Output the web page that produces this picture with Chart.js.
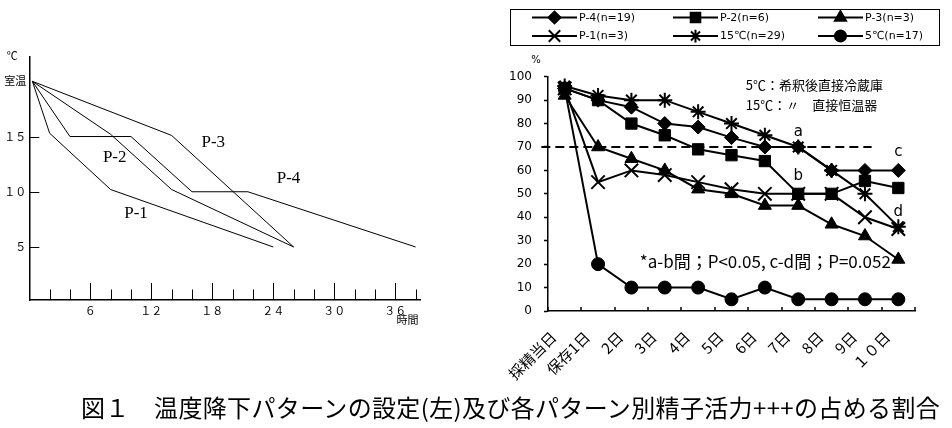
<!DOCTYPE html>
<html><head><meta charset="utf-8">
<script src="https://cdn.jsdelivr.net/npm/chart.js@4"></script>
<style>
html,body{margin:0;padding:0;background:#fff;width:952px;height:428px;overflow:hidden;}
#left{position:absolute;left:0;top:40px;}
#right{position:absolute;left:500px;top:0;}
#caption{position:absolute;left:81px;top:395px;font-family:"Noto Sans CJK JP";font-size:24px;line-height:24px;letter-spacing:0.35px;white-space:nowrap;color:#000;}
</style></head><body>
<canvas id="left" width="480" height="300"></canvas>
<canvas id="right" width="452" height="392"></canvas>
<div id="caption">図１　温度降下パターンの設定(左)及び各パターン別精子活力+++の占める割合</div>
<script>
// ---------- Left chart: temperature-drop patterns (hours, °C) ----------
const patternNames = ['P-1', 'P-2', 'P-3', 'P-4'];
const p1Hours = [0.3, 2, 8, 24];
const p1Temps = [20, 15.3, 10.2, 5];
const p2Hours = [0.3, 8, 14, 26];
const p2Temps = [20, 15.2, 10.2, 5];
const p3Hours = [0.3, 14, 26];
const p3Temps = [20, 15.1, 5];
const p4Hours = [0.3, 4, 10, 16, 21.5, 38];
const p4Temps = [20, 15, 15, 10, 10, 5];
const patternLabelHours = [10.5, 8.4, 18.1, 25.5];
const patternLabelTemps = [8.0, 13.1, 14.5, 11.2];
const leftXTickValues = [6, 12, 18, 24, 30, 36];
const leftXTickLabels = ['６', '１２', '１８', '２４', '３０', '３６'];
const leftYTickValues = [5, 10, 15, 20];
const leftYTickLabels = ['５', '１０', '１５', '室温'];
const leftMinorTickStep = 2;

// ---------- Right chart: % of motility +++ by storage day ----------
const dayLabels = ['採精当日', '保存1日', '2日', '3日', '4日', '5日', '6日', '7日', '8日', '9日', '１０日'];
const seriesNames = ['P-4(n=19)', 'P-2(n=6)', 'P-3(n=3)', 'P-1(n=3)', '15℃(n=29)', '5℃(n=17)'];
const p4Values = [95, 90, 87, 80, 78.5, 74, 70, 70, 60, 60, 60];
const p2Values = [95, 90, 80, 75, 69, 66.5, 64, 50, 50, 55.5, 52.5];
const p3Values = [92, 70, 65, 60, 52, 50, 45, 45, 37, 32, 22];
const p1Values = [95, 55, 60, 58, 55, 52, 50, 50, 50, 40, 35];
const t15Values = [96, 92, 90, 90, 85, 80, 75, 70, 60, 50, 36];
const t5Values = [95, 20, 10, 10, 10, 5, 10, 5, 5, 5, 5];
const thresholdValue = 70;
const markLetters = ['a', 'b', 'c', 'd'];
const markDays = [7, 7, 10, 10];
const markValues = [76.5, 57.7, 68, 42.4];
const noteLines = ['5℃：希釈後直接冷蔵庫', '15℃：〃　直接恒温器'];
const statNote = '*a-b間；P<0.05, c-d間；P=0.052';

const BLACK = '#000';

// ================= LEFT CHART =================
function pts(xs, ys) { return xs.map((x, i) => ({ x: x, y: ys[i] })); }

const leftPlugin = {
  id: 'leftDecor',
  afterDraw(chart) {
    const ctx = chart.ctx, xs = chart.scales.x, ys = chart.scales.y, ca = chart.chartArea;
    ctx.save();
    ctx.strokeStyle = BLACK; ctx.lineWidth = 1;
    for (let v = leftMinorTickStep; v <= xs.max; v += leftMinorTickStep) {
      const px = Math.round(xs.getPixelForValue(v)) + 0.5;
      const len = (v % 6 === 0) ? 17 : 10.5;
      ctx.beginPath(); ctx.moveTo(px, ca.bottom); ctx.lineTo(px, ca.bottom - len); ctx.stroke();
    }
    leftYTickValues.slice(0, 3).forEach(v => {
      const py = Math.round(ys.getPixelForValue(v)) + 0.5;
      ctx.beginPath(); ctx.moveTo(ca.left, py); ctx.lineTo(ca.left + 10, py); ctx.stroke();
    });
    ctx.fillStyle = BLACK;
    ctx.font = '17px "Liberation Serif"';
    ctx.textAlign = 'center'; ctx.textBaseline = 'middle';
    patternNames.forEach((n, i) => {
      ctx.fillText(n, xs.getPixelForValue(patternLabelHours[i]), ys.getPixelForValue(patternLabelTemps[i]));
    });
    ctx.font = '11px "Noto Sans CJK JP"';
    ctx.fillText('℃', ca.left - 17, ca.top - 1);
    ctx.fillText('時間', xs.getPixelForValue(37.2), ca.bottom + 20);
    ctx.restore();
  }
};

const lineStyle = { borderColor: BLACK, borderWidth: 1, pointRadius: 0, tension: 0, fill: false, showLine: true };
new Chart(document.getElementById('left'), {
  type: 'line',
  data: {
    datasets: [
      Object.assign({ label: patternNames[0], data: pts(p1Hours, p1Temps) }, lineStyle),
      Object.assign({ label: patternNames[1], data: pts(p2Hours, p2Temps) }, lineStyle),
      Object.assign({ label: patternNames[2], data: pts(p3Hours, p3Temps) }, lineStyle),
      Object.assign({ label: patternNames[3], data: pts(p4Hours, p4Temps) }, lineStyle)
    ]
  },
  options: {
    responsive: false, animation: false, devicePixelRatio: 1,
    layout: { padding: { top: 17, left: 0, right: 59.3, bottom: 0 } },
    plugins: { legend: { display: false }, tooltip: { enabled: false } },
    scales: {
      x: {
        type: 'linear', min: 0, max: 38.5,
        grid: { display: false, drawTicks: false },
        border: { display: true, color: BLACK, width: 1.5 },
        ticks: {
          color: BLACK, font: { family: '"Noto Sans CJK JP"', size: 11 }, padding: 4, maxRotation: 0, autoSkip: false,
          callback: (v) => { const i = leftXTickValues.indexOf(v); return i >= 0 ? leftXTickLabels[i] : ''; }
        },
        afterBuildTicks: (s) => { s.ticks = leftXTickValues.map(v => ({ value: v })); },
        afterFit: (s) => { s.height = 40; }
      },
      y: {
        type: 'linear', min: 0.2, max: 22.2,
        grid: { display: false, drawTicks: false },
        border: { display: true, color: BLACK, width: 1.5 },
        ticks: {
          color: BLACK, font: { family: '"Noto Sans CJK JP"', size: 11 }, padding: 3,
          callback: (v) => { const i = leftYTickValues.indexOf(v); return i >= 0 ? leftYTickLabels[i] : ''; }
        },
        afterBuildTicks: (s) => { s.ticks = leftYTickValues.map(v => ({ value: v })); },
        afterFit: (s) => { s.width = 29.3; }
      }
    }
  },
  plugins: [leftPlugin]
});

// ================= RIGHT CHART =================
const pointStyles = ['rectRot', 'rect', 'triangle', 'crossRot', 'star', 'circle'];
const pointRadii = [7, 8, 7.5, 9.5, 7.5, 6.5];
const seriesValues = [p4Values, p2Values, p3Values, p1Values, t15Values, t5Values];

function drawMarker(ctx, style, r, x, y) {
  if (Chart.helpers && Chart.helpers.drawPoint) {
    Chart.helpers.drawPoint(ctx, { pointStyle: style, radius: r, rotation: 0, borderWidth: 2 }, x, y);
  }
}

const rightPlugin = {
  id: 'rightDecor',
  afterDatasetsDraw(chart) {
    const ctx = chart.ctx, xs = chart.scales.x, ys = chart.scales.y, ca = chart.chartArea;
    ctx.save();
    ctx.strokeStyle = BLACK; ctx.lineWidth = 2; ctx.setLineDash([9, 5]);
    const ty = ys.getPixelForValue(thresholdValue);
    ctx.beginPath(); ctx.moveTo(xs.getPixelForValue(-0.7), ty); ctx.lineTo(xs.getPixelForValue(9.2), ty); ctx.stroke();
    ctx.setLineDash([]);
    ctx.lineWidth = 1.5;
    for (let i = 0; i <= dayLabels.length; i++) {
      const px = Math.round(xs.getPixelForValue(i - 0.5));
      ctx.beginPath(); ctx.moveTo(px, ca.bottom); ctx.lineTo(px, ca.bottom - 4); ctx.stroke();
    }
    ctx.fillStyle = BLACK;
    ctx.font = '15px "DejaVu Sans"';
    ctx.textAlign = 'center'; ctx.textBaseline = 'middle';
    markLetters.forEach((m, i) => ctx.fillText(m, xs.getPixelForValue(markDays[i]), ys.getPixelForValue(markValues[i])));
    ctx.textAlign = 'left';
    ctx.font = '13px "Noto Sans CJK JP"';
    ctx.fillText(noteLines[0], xs.getPixelForValue(5.43), ys.getPixelForValue(96.5));
    ctx.fillText(noteLines[1], xs.getPixelForValue(5.43), ys.getPixelForValue(87.9));
    ctx.font = '17px "Noto Sans CJK JP"';
    ctx.fillText(statNote, xs.getPixelForValue(2.25), ys.getPixelForValue(21));
    ctx.font = '10px "DejaVu Sans"';
    ctx.textAlign = 'center';
    ctx.fillText('%', ca.left - 12, ca.top - 16);
    ctx.restore();
  },
  afterDraw(chart) {
    const ctx = chart.ctx;
    ctx.save();
    ctx.strokeStyle = BLACK; ctx.lineWidth = 1;
    ctx.strokeRect(10.5, 9.5, 429, 36);
    const colX = [32, 173, 318], rowY = [17.5, 36];
    ctx.font = '11px "DejaVu Sans"';
    ctx.textBaseline = 'middle'; ctx.textAlign = 'left';
    seriesNames.forEach((name, i) => {
      const x = colX[i % 3], y = rowY[Math.floor(i / 3)];
      ctx.strokeStyle = BLACK; ctx.fillStyle = BLACK; ctx.lineWidth = 2;
      ctx.beginPath(); ctx.moveTo(x, y); ctx.lineTo(x + 45, y); ctx.stroke();
      drawMarker(ctx, pointStyles[i], pointRadii[i] * 0.85, x + 22.5, y);
      ctx.fillStyle = BLACK;
      ctx.fillText(name, x + 47, y + 0.5);
    });
    ctx.restore();
  }
};

new Chart(document.getElementById('right'), {
  type: 'line',
  data: {
    labels: dayLabels,
    datasets: seriesNames.map((n, i) => ({
      label: n,
      data: seriesValues[i],
      borderColor: BLACK, backgroundColor: BLACK, borderWidth: 2,
      pointStyle: pointStyles[i], pointRadius: pointRadii[i],
      pointBackgroundColor: BLACK, pointBorderColor: BLACK,
      pointBorderWidth: (pointStyles[i] === 'crossRot' || pointStyles[i] === 'star') ? 2 : 1,
      tension: 0, fill: false
    }))
  },
  options: {
    responsive: false, animation: false, devicePixelRatio: 1,
    layout: { padding: { top: 76.7, right: 37, left: 0, bottom: 0 } },
    plugins: { legend: { display: false }, tooltip: { enabled: false } },
    scales: {
      x: {
        type: 'category', offset: true,
        grid: { display: false, drawTicks: false, offset: true },
        border: { display: true, color: BLACK, width: 1.5 },
        ticks: {
          autoSkip: false, minRotation: 45, maxRotation: 45, color: BLACK,
          font: { family: '"Noto Sans CJK JP"', size: 15 }, padding: 17, labelOffset: -11
        },
        afterFit: (s) => { s.height = 81; }
      },
      y: {
        min: 0, max: 100,
        ticks: { stepSize: 10, color: BLACK, font: { family: '"DejaVu Sans"', size: 12 }, padding: 12 },
        grid: { display: true, drawOnChartArea: false, drawTicks: true, tickLength: 4, tickColor: BLACK, tickWidth: 1.5 },
        border: { display: true, color: BLACK, width: 1.5 },
        afterFit: (s) => { s.width = 48; }
      }
    }
  },
  plugins: [rightPlugin]
});
</script>
</body></html>
